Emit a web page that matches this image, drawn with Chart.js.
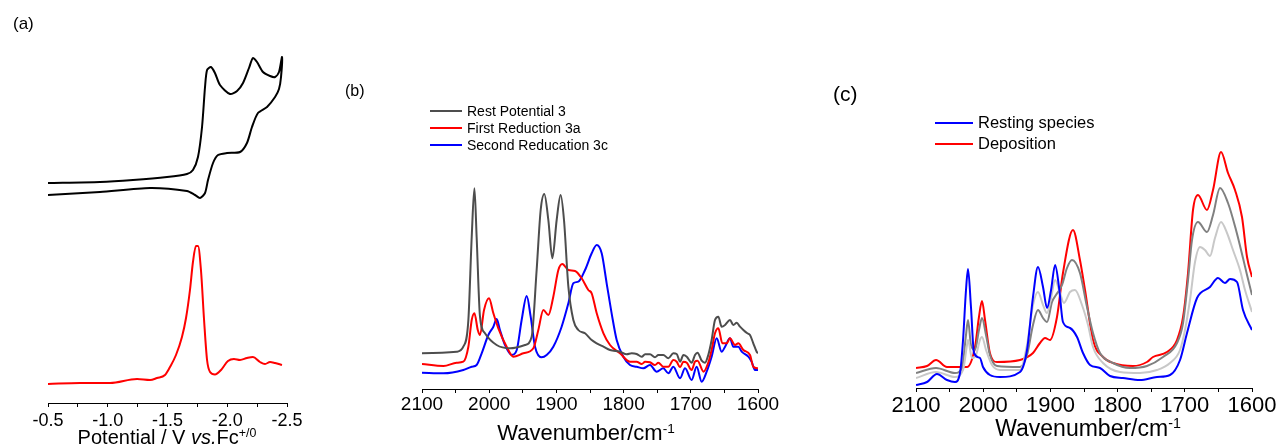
<!DOCTYPE html>
<html><head><meta charset="utf-8">
<script src="https://cdn.jsdelivr.net/npm/chart.js@4.4.1/dist/chart.umd.min.js"></script>
<style>
html,body{margin:0;padding:0;background:#fff;}
body{width:1281px;height:446px;position:relative;overflow:hidden;font-family:"Liberation Sans",Arial,sans-serif;color:#000;}
canvas{position:absolute;top:0;}
.lbl{position:absolute;white-space:nowrap;line-height:1;}
.ctr{transform:translateX(-50%);}
.lbl sup{font-size:0.62em;vertical-align:0;position:relative;top:-0.55em;}
.legend{position:absolute;}
.legend .row{display:flex;align-items:center;white-space:nowrap;}
.legend .sw{display:inline-block;height:2px;}
</style></head><body>
<canvas id="ca" width="330" height="446" style="left:0px"></canvas>
<canvas id="cb" width="460" height="446" style="left:340px"></canvas>
<canvas id="cc" width="451" height="446" style="left:830px"></canvas>

<div class="lbl" style="left:13px;top:15px;font-size:17px">(a)</div>
<div class="lbl" style="left:345px;top:83px;font-size:16px">(b)</div>
<div class="lbl" style="left:833px;top:83px;font-size:21px">(c)</div>

<div class="lbl ctr" style="left:167px;top:427px;font-size:20px">Potential / V <i>vs.</i>Fc<sup>+/0</sup></div>
<div class="lbl ctr" style="left:586px;top:422px;font-size:22px">Wavenumber/cm<sup>-1</sup></div>
<div class="lbl ctr" style="left:1088px;top:417px;font-size:23px">Wavenumber/cm<sup>-1</sup></div>

<div id="legB" class="legend" style="left:430px;top:102px;font-size:14px"></div>
<div id="legC" class="legend" style="left:935px;top:112px;font-size:16.5px"></div>

<script>
// ---------- Panel (a): CV and DPV ----------
const cvPotential = [-0.5,-0.935,-1.211,-1.496,-1.663,-1.713,-1.755,-1.789,-1.814,-1.831,-1.864,-1.897,-1.939,-2.023,-2.082,-2.132,-2.182,-2.215,-2.249,-2.299,-2.358,-2.400,-2.433,-2.458,
  -2.450,-2.433,-2.400,-2.333,-2.257,-2.207,-2.165,-2.107,-1.998,-1.923,-1.881,-1.839,-1.814,-1.772,-1.730,-1.663,-1.354,-0.935,-0.5];
const cvCurrent = [220,221,223,226,229,233,246,276,316,333,336,330,318,309,312,320,335,345,341,331,327,326,331,346,
  326,314,306,296,290,276,260,251,250,248,240,223,210,205,208,212,215,211,208];
const dpvPotential = [-0.5,-0.768,-1.019,-1.245,-1.354,-1.412,-1.479,-1.521,-1.571,-1.621,-1.655,-1.688,-1.713,-1.738,-1.755,-1.780,-1.806,-1.831,-1.856,-1.897,-1.948,-2.006,-2.056,-2.107,-2.165,-2.215,-2.274,-2.316,-2.358,-2.400,-2.458];
const dpvCurrent = [19,20,20,24,23,25,28,36,48,66,85,113,141,157,157,133,83,43,31,28.5,33,42,44,43,45,46,41,39,41,40,38];
const potentialTicks = {min:-2.5, max:-0.5, step:0.25};

// ---------- Panel (b): IR spectra ----------
const bLabels = ['Rest Potential 3','First Reduction 3a','Second Reducation 3c'];
const restWn = [2100,2048.4,2038.5,2031,2026,2022,2018.7,2013.7,2006.3,1989,1969,1946.7,1936.8,1929.4,1923.4,1918,1912,1906,1899.6,1893.7,1888.7,1882.2,1874.8,1867.4,1857.4,1847.5,1840,1830,1820.2,1805.4,1795.4,
  1788,1780.6,1773,1768,1760.7,1753.3,1748.3,1740.9,1733.4,1726,1721,1716,1711,1706,1698.7,1693.8,1690,1683.8,1678.9,1674,1669,1664,1659,1654.1,1649,1641.7,1636.7,1631.7,1626.8,1621.8,1615.9,1611.9,1607,1602,1600];
const restAbs = [35.7,37.3,42.3,69,152.3,200.7,152.3,72.3,55.7,44,40.7,44,52.3,119,179,195,169,130.7,169,194,169,102.3,69,59,55.7,49,45.7,42.3,39,37.3,34.7,
  35.7,35,32.3,34.7,34.7,31.7,34,34,30.7,35.7,35,27.3,34,32.3,26.3,34,36.3,28.3,26.3,34,49,69,72.3,62.3,64,69,64,66.3,62.3,59,55.7,54,45.7,37.3,35.7];
const red1Wn = [2100,2068,2048.4,2038.5,2031,2026,2022,2017,2013.7,2007.7,2000.3,1993.8,1986.4,1974,1964,1949.2,1934.3,1926.9,1919.4,1912,1904.6,1897.1,1891.2,1882.2,1872.3,1862.4,1852.5,1847.5,1840,1830,1820.2,1805.4,1790.5,
  1780.6,1773,1768,1760.7,1753.3,1748.3,1741,1733.4,1726,1721,1716,1711,1706,1698.7,1693.8,1690,1681,1674,1669,1664,1659,1653,1646.6,1641.7,1634.2,1629.3,1621.8,1611.9,1607,1600];
const red1Abs = [25,23,26.3,27.3,42.3,69,75.7,59,54,79,90.7,75.7,60.7,42.3,32.3,35.7,40.7,59,79,74,92.3,119,125,119,118,110.7,99,95.7,75.7,55.7,44,35.7,27.3,
  27.3,25,27.3,26.7,24,26.3,22.3,22.3,29,27.3,21.7,27.3,26.3,19,27.3,28.3,17.3,26.3,39,55.7,60.7,45.7,45.7,50.7,44,45.7,39,34,22.3,20.7];
const red2Wn = [2100,2068,2038.5,2026,2018.7,2011.2,2001.3,1993.8,1988.9,1984,1976.5,1966.6,1959,1951.7,1944.2,1938.3,1931.8,1922,1914.5,1904.6,1892.2,1882.2,1874.8,1867.4,1857.4,1847.5,1840,1832.6,1825.2,1817.8,1810.3,1800.4,1790.5,
  1780.6,1770.6,1760.7,1750.8,1741,1733.4,1726,1716,1708.6,1698.7,1691.3,1683.8,1676.4,1669,1661.5,1654.1,1649,1641.7,1636.7,1629.3,1624.3,1614.4,1609.4,1604.5,1600];
const red2Abs = [16.3,15.7,19,22.3,24,35.7,54,62.3,70,59,44,34,39,69,93,72.3,42.3,31.7,34,42.3,62.3,85.7,105.7,107.3,119,135.7,144,135.7,105.7,75.7,49,32.3,24,
  22.3,20.7,24,17.3,20.7,15.7,22.3,10.7,20.7,9,22.3,7.3,17.3,32.3,50.7,37.3,42.3,50.7,42.3,42.3,37.3,32.3,27.3,19,19];

// ---------- Panel (c): IR spectra, resting -> deposition ----------
const cLabels = ['Resting species','Deposition'];
const restingWn = [2100,2083.6,2068.8,2053.9,2042,2034.5,2030,2025.6,2022.6,2018.2,2013.7,2004.8,2000.3,1990,1975,1945.2,1934.8,1925.9,1918.5,1911,1905,1899,1893,1887.2,1881.3,1870.8,1860.4,1851.5,1841,1826.2,1811.3,1792,1766.7,1741.4,1722,1707.1,1696.7,1681.8,1662.5,1650.6,1640.2,1632.7,1622.3,1613.4,1600];
const restingAbs = [3,6,14,8,6,15,48,98,119,81,35,30,21,13,11,16,38,91,121,101,80,98,123,101,66,60,51,35,23,20,12,10,8,11,13,28,55,90,101,110,105,109,106,78,58];
const light1Wn = [2100,2070.2,2042,2030,2024.1,2022.6,2016.7,2010.7,2004.8,2001.8,1995.8,1986.9,1975,1945.2,1934.8,1925.9,1918.5,1911,1905,1899,1893,1885.7,1879.8,1870.8,1863.4,1853,1844,1836.6,1821.7,1796.4,1766.7,1741.4,1722,1707.1,1699.7,1692.3,1684.8,1677.4,1670,1662.5,1655.1,1646.1,1637.2,1628.3,1617.9,1610.4,1600];
const light1Abs = [10,16,11,18,43,48,30,33,48,51,38,23,18,18,43,83,96,83,75,90,108,95,85,96,98,83,63,41,25,16,15,18,25,38,58,88,126,141,138,132,150,166,155,138,118,98,76];
const dark2Wn = [2100,2070.2,2042,2031.5,2025.6,2022.6,2018.2,2012.2,2006.3,2001.8,1995.8,1990,1979.5,1945.2,1934.8,1925.9,1918.5,1911,1905,1897.6,1891.7,1882.7,1875.3,1867.9,1856,1845.5,1836.6,1826.2,1806.8,1781.5,1756.3,1732.4,1711.6,1702.6,1695.2,1689.3,1680.4,1667,1658,1647.6,1635.7,1623.8,1613.4,1607.4,1600];
const dark2Abs = [15,20,15,20,53,68,43,38,58,70,53,33,22,21,33,63,78,70,66,86,93,103,120,128,115,81,55,35,25,20,22,31,45,65,108,148,166,156,173,200,185,158,130,113,93];
const depositWn = [2100,2083.6,2070.2,2053.9,2024.1,2012.2,2006.3,2001.8,1997.3,1990,1979.5,1945.2,1925.9,1915.5,1908,1900.6,1890.2,1881.3,1866.4,1856,1848.5,1836.6,1821.7,1806.8,1777,1756.3,1747.3,1726.5,1711.6,1702.6,1695.2,1687.8,1680.4,1667,1658,1646.1,1635.7,1625.3,1614.9,1607.4,1600];
const depositAbs = [20,22,28,21,21,41,71,87,68,35,26,28,35,45,50,48,71,115,158,128,98,48,31,25,22,26,31,36,48,71,115,178,193,178,198,236,215,198,171,131,111];
const wnTicks = {min:1600, max:2100, step:50};

// ---------- helpers ----------
const FONT = '"Liberation Sans", Arial, sans-serif';
const pts = (xs, ys) => xs.map((x, i) => ({x: x, y: ys[i]}));

const htmlLegend = {
  id: 'htmlLegend',
  afterUpdate(chart, args, opts) {
    if (!opts || !opts.containerID) return;
    const box = document.getElementById(opts.containerID);
    box.innerHTML = '';
    chart.data.datasets.forEach(ds => {
      if (ds.noLegend) return;
      const row = document.createElement('div');
      row.className = 'row';
      row.style.height = opts.rowHeight + 'px';
      const sw = document.createElement('span');
      sw.className = 'sw';
      sw.style.width = opts.swatch + 'px';
      sw.style.background = ds.borderColor;
      sw.style.marginRight = opts.gap + 'px';
      const tx = document.createElement('span');
      tx.textContent = ds.label;
      row.appendChild(sw); row.appendChild(tx);
      box.appendChild(row);
    });
  }
};

function xAxis(t, fontSize, labelFn, tickPad) {
  return {
    type: 'linear', min: t.min, max: t.max, reverse: true,
    ticks: {stepSize: t.step, autoSkip: false, maxRotation: 0, minRotation: 0, padding: tickPad,
      color: '#000', font: {family: FONT, size: fontSize}, callback: labelFn},
    grid: {display: true, drawOnChartArea: false, drawTicks: true, tickLength: 4, tickColor: '#000', tickWidth: 1},
    border: {display: true, color: '#000', width: 1},
    afterFit: s => { s.height = 30; }
  };
}
function baseOptions(padding, x, ymax, legendOpts) {
  return {
    responsive: false, animation: false, events: [],
    layout: {padding: padding},
    plugins: {legend: {display: false}, tooltip: {enabled: false}, htmlLegend: legendOpts || {}},
    elements: {point: {radius: 0}},
    scales: {x: x, y: {display: false, min: 0, max: ymax}}
  };
}
const wnLabel = v => (Math.round(v) % 100 === 0 ? String(Math.round(v)) : '');
const potLabel = v => (Math.abs(v * 2 - Math.round(v * 2)) < 1e-6 ? v.toFixed(1) : '');

// Panel (a)
new Chart(document.getElementById('ca'), {
  type: 'scatter',
  data: {datasets: [
    {label: 'CV', data: pts(cvPotential, cvCurrent), showLine: true, borderColor: '#000000', borderWidth: 2, tension: 0.25, noLegend: true},
    {label: 'DPV', data: pts(dpvPotential, dpvCurrent), showLine: true, borderColor: '#ff0000', borderWidth: 2, cubicInterpolationMode: 'monotone', noLegend: true}
  ]},
  options: baseOptions({left: 48, right: 43, top: 43, bottom: 13}, xAxis(potentialTicks, 18, potLabel, 3), 360)
});

// Panel (b)
new Chart(document.getElementById('cb'), {
  type: 'scatter',
  data: {datasets: [
    {label: bLabels[0], data: pts(restWn, restAbs), showLine: true, borderColor: '#4d4d4d', borderWidth: 2, cubicInterpolationMode: 'monotone'},
    {label: bLabels[1], data: pts(red1Wn, red1Abs), showLine: true, borderColor: '#ff0000', borderWidth: 2, cubicInterpolationMode: 'monotone'},
    {label: bLabels[2], data: pts(red2Wn, red2Abs), showLine: true, borderColor: '#0000ff', borderWidth: 2, cubicInterpolationMode: 'monotone'}
  ]},
  options: baseOptions({left: 82, right: 42, top: 89, bottom: 27}, xAxis(wnTicks, 19, wnLabel, 0), 300,
    {containerID: 'legB', rowHeight: 17, swatch: 32, gap: 5}),
  plugins: [htmlLegend]
});

// Panel (c)
new Chart(document.getElementById('cc'), {
  type: 'scatter',
  data: {datasets: [
    {label: cLabels[0], data: pts(restingWn, restingAbs), showLine: true, borderColor: '#0000ff', borderWidth: 2, cubicInterpolationMode: 'monotone'},
    {label: 'intermediate 1', data: pts(light1Wn, light1Abs), showLine: true, borderColor: '#c8c8c8', borderWidth: 2, cubicInterpolationMode: 'monotone', noLegend: true},
    {label: 'intermediate 2', data: pts(dark2Wn, dark2Abs), showLine: true, borderColor: '#808080', borderWidth: 2, cubicInterpolationMode: 'monotone', noLegend: true},
    {label: cLabels[1], data: pts(depositWn, depositAbs), showLine: true, borderColor: '#ff0000', borderWidth: 2, cubicInterpolationMode: 'monotone'}
  ]},
  options: baseOptions({left: 86, right: 29, top: 88, bottom: 28}, xAxis(wnTicks, 22, wnLabel, 1), 300,
    {containerID: 'legC', rowHeight: 21, swatch: 38, gap: 5}),
  plugins: [htmlLegend]
});
</script>
</body></html>
